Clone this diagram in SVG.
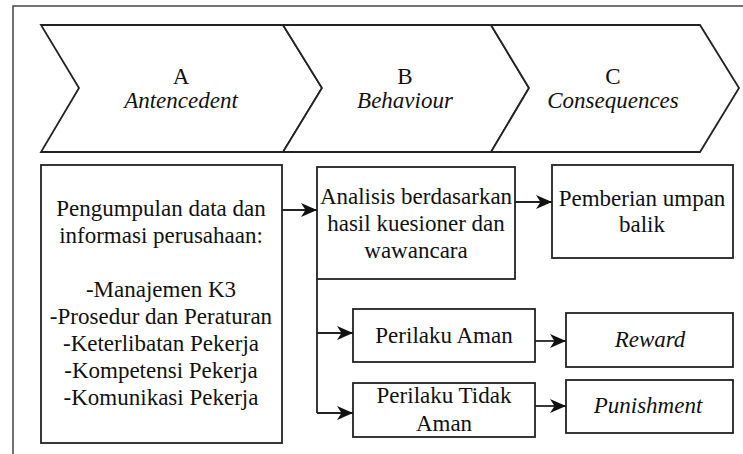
<svg xmlns="http://www.w3.org/2000/svg" width="743" height="454" viewBox="0 0 743 454">
<defs>
<marker id="ah" markerUnits="userSpaceOnUse" markerWidth="17" markerHeight="15" viewBox="0 0 17 15" refX="16" refY="7.5" orient="auto">
<path d="M0,0.5 L16,7.5 L0,14.5 L4.5,7.5 Z" fill="#111"/>
</marker>
</defs>
<style>
.frame{fill:none;stroke:#444;stroke-width:1.5}
.chev{fill:#fff;stroke:#222;stroke-width:1.8;stroke-linejoin:miter}
.box{fill:#fff;stroke:#222;stroke-width:1.8}
.c{fill:none;stroke:#222;stroke-width:1.8}
</style>
<rect width="743" height="454" fill="#fff"/>
<path class="frame" d="M13,460 L13,6 L750,6"/>
<g font-family="'Liberation Serif', 'Times New Roman', serif" font-size="23" fill="#111" text-anchor="middle">
<g id="chevron-a">
<path class="chev" d="M41,25 L283,25 L322,88 L283,152 L41,152 L79,88 Z"/>
<text x="181" y="84">A</text>
<text x="181" y="108" font-style="italic">Antencedent</text>
</g>
<g id="chevron-b">
<path class="chev" d="M283,25 L491,25 L529,88 L491,152 L283,152 L322,88 Z"/>
<text x="405" y="84">B</text>
<text x="405" y="108" font-style="italic">Behaviour</text>
</g>
<g id="chevron-c">
<path class="chev" d="M491,25 L700,25 L739,88 L700,152 L491,152 L529,88 Z"/>
<text x="613" y="84">C</text>
<text x="613" y="108" font-style="italic">Consequences</text>
</g>
<g id="antecedent-box">
<rect class="box" x="41" y="165" width="241" height="278"/>
<text x="161" y="216">Pengumpulan data dan</text>
<text x="161" y="243">informasi perusahaan:</text>
<text x="161" y="297">-Manajemen K3</text>
<text x="161" y="324">-Prosedur dan Peraturan</text>
<text x="161" y="351">-Keterlibatan Pekerja</text>
<text x="161" y="378">-Kompetensi Pekerja</text>
<text x="161" y="405">-Komunikasi Pekerja</text>
</g>
<g id="analisis-box">
<rect class="box" x="317" y="167" width="198" height="112"/>
<text x="416" y="204">Analisis berdasarkan</text>
<text x="416" y="231">hasil kuesioner dan</text>
<text x="416" y="258">wawancara</text>
</g>
<g id="umpan-balik-box">
<rect class="box" x="552" y="165" width="181" height="93"/>
<text x="642" y="206">Pemberian umpan</text>
<text x="642" y="232">balik</text>
</g>
<g id="aman-box">
<rect class="box" x="353" y="309" width="182" height="53"/>
<text x="444" y="343">Perilaku Aman</text>
</g>
<g id="tidak-aman-box">
<rect class="box" x="353" y="383" width="182" height="54"/>
<text x="444" y="403">Perilaku Tidak</text>
<text x="444" y="431">Aman</text>
</g>
<g id="reward-box">
<rect class="box" x="566" y="313" width="167" height="54"/>
<text x="650" y="347" font-style="italic">Reward</text>
</g>
<g id="punishment-box">
<rect class="box" x="566" y="380" width="167" height="53"/>
<text x="648" y="413" font-style="italic">Punishment</text>
</g>
</g>
<g id="connectors">
<path class="c" d="M282,210 L317,210" marker-end="url(#ah)"/>
<path class="c" d="M515,202 L552,202" marker-end="url(#ah)"/>
<path class="c" d="M317,279 L317,413"/>
<path class="c" d="M317,333 L353,333" marker-end="url(#ah)"/>
<path class="c" d="M317,413 L353,413" marker-end="url(#ah)"/>
<path class="c" d="M535,341 L566,341" marker-end="url(#ah)"/>
<path class="c" d="M535,406 L566,406" marker-end="url(#ah)"/>
</g>
</svg>
